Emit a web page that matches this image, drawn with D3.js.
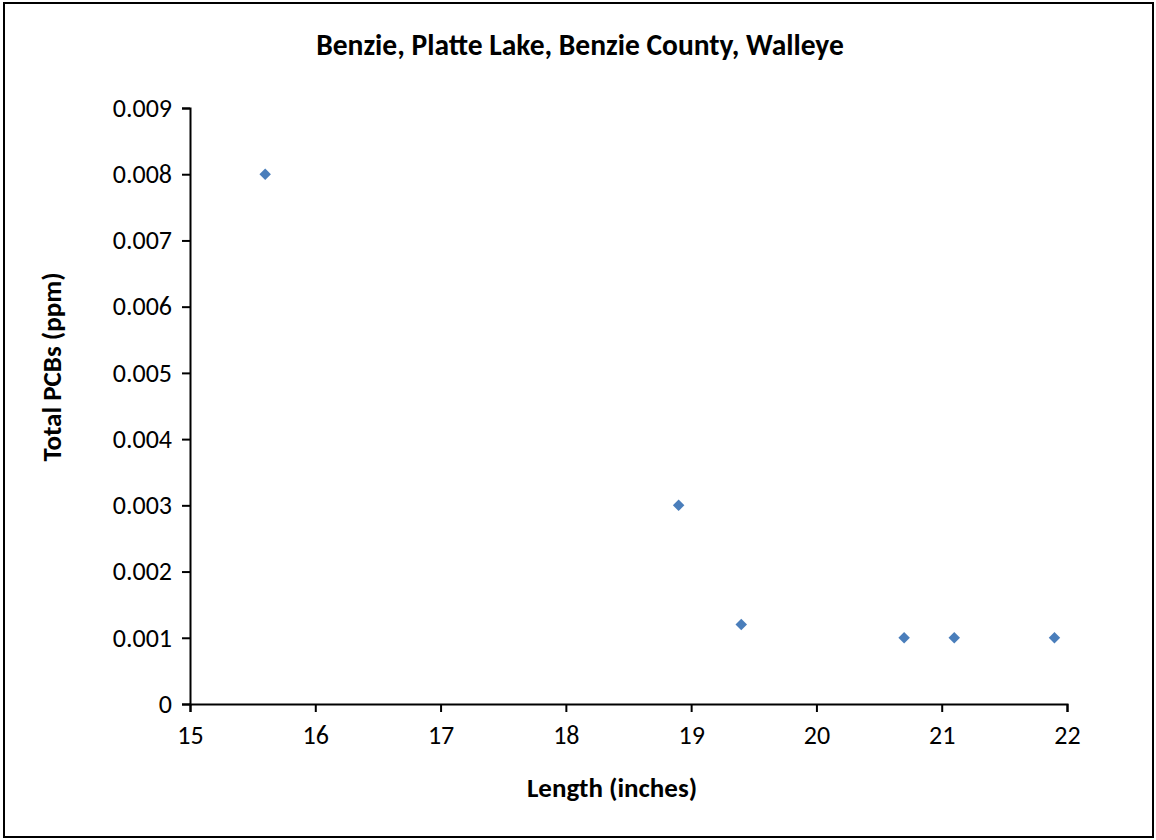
<!DOCTYPE html>
<html>
<head>
<meta charset="utf-8">
<script src="https://cdn.jsdelivr.net/npm/d3@7"></script>
<style>
  body { margin: 0; background: #fff; }
  svg { display: block; font-family: Carlito, Lato, "Open Sans", sans-serif; }
</style>
</head>
<body>
<script>
var lengths = [15.6, 18.9, 19.4, 20.7, 21.1, 21.9];
var pcbs = [0.008, 0.003, 0.0012, 0.001, 0.001, 0.001];
var xTicks = [15, 16, 17, 18, 19, 20, 21, 22];
var yTicks = [0, 0.001, 0.002, 0.003, 0.004, 0.005, 0.006, 0.007, 0.008, 0.009];

var width = 1156;
var height = 840;
var margin = {left: 190, right: 89, top: 108, bottom: 136};

var svg = d3.select("body").append("svg")
  .attr("width", width)
  .attr("height", height);

// outer chart border
svg.append("rect")
  .attr("x", 4).attr("y", 3)
  .attr("width", 1149).attr("height", 834)
  .attr("fill", "#fff")
  .attr("stroke", "#000")
  .attr("stroke-width", 2);

var x = d3.scaleLinear()
  .domain([15, 22])
  .range([margin.left, width - margin.right]);

var y = d3.scaleLinear()
  .domain([0, 0.009])
  .range([height - margin.bottom, margin.top]);

var xAxis = svg.append("g")
  .attr("transform", "translate(0," + y(0) + ")")
  .call(d3.axisBottom(x).tickValues(xTicks).tickSize(8).tickPadding(10).tickFormat(d3.format("d")));

var yAxis = svg.append("g")
  .attr("transform", "translate(" + x(15) + ",0)")
  .call(d3.axisLeft(y).tickValues(yTicks).tickSize(8).tickPadding(10)
    .tickFormat(function(d){ return d === 0 ? "0" : d3.format(".3f")(d); }));

[xAxis, yAxis].forEach(function(g){
  g.attr("font-family", null).attr("font-size", null);
  g.select(".domain").attr("stroke", "#000").attr("stroke-width", 2);
  g.selectAll(".tick line").attr("stroke", "#000").attr("stroke-width", 2);
  g.selectAll(".tick text").attr("fill", "#000").style("font-size", "26px");
});
xAxis.selectAll(".tick text").attr("dy", "0.85em");

// diamonds
svg.selectAll("path.pt")
  .data(lengths)
  .enter()
  .append("path")
  .attr("class", "pt")
  .attr("d", d3.symbol().type(d3.symbolDiamond2).size(84))
  .attr("transform", function(d, i){ return "translate(" + x(d) + "," + y(pcbs[i]) + ")"; })
  .attr("fill", "#4a7ebb");

svg.append("text")
  .attr("x", 580).attr("y", 55)
  .attr("text-anchor", "middle")
  .style("font-size", "29.5px").style("font-weight", "bold")
  .text("Benzie, Platte Lake, Benzie County, Walleye");

svg.append("text")
  .attr("x", 612).attr("y", 797)
  .attr("text-anchor", "middle")
  .style("font-size", "27px").style("font-weight", "bold")
  .text("Length (inches)");

svg.append("text")
  .attr("transform", "translate(61,367) rotate(-90)")
  .attr("text-anchor", "middle")
  .style("font-size", "27px").style("font-weight", "bold")
  .text("Total PCBs (ppm)");
</script>
</body>
</html>
